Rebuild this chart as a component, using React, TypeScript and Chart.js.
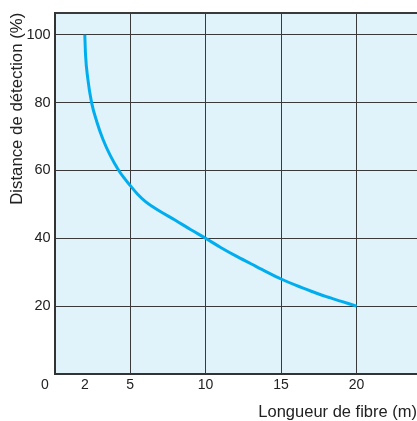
import React, { useEffect, useRef } from "react";
import { Chart, registerables } from "chart.js";

Chart.register(...registerables);

// Data
const fibreLength = [2, 2.05, 2.2, 2.45, 2.8, 3.2, 3.7, 4.25, 4.6, 5, 5.5, 6, 6.5, 7, 8, 9, 10, 11, 12, 13, 14, 15, 16, 17, 18, 19, 20];
const detectionDistance = [100, 94, 87, 80, 74.3, 69.2, 64.3, 60, 57.8, 55.6, 53, 50.9, 49.3, 47.9, 45.3, 42.6, 40, 37.3, 34.8, 32.5, 30.2, 28, 26.1, 24.4, 22.8, 21.4, 20];
const xTickValues = [0, 2, 5, 10, 15, 20, 24];
const yTickValues = [0, 20, 40, 60, 80, 100, 106.5];
const xGridValues = [5, 10, 15, 20];
const xTitle = "Longueur de fibre (m)";
const yTitle = "Distance de détection (%)";

const GRID = "#3a3a3a";
const FONT = "'Liberation Sans', Arial, Helvetica, sans-serif";

const bgPlugin = {
  id: "plotBg",
  beforeDraw(chart: any) {
    const { ctx, chartArea } = chart;
    ctx.save();
    ctx.fillStyle = "#e0f2fa";
    ctx.fillRect(chartArea.left, chartArea.top, chartArea.right - chartArea.left, chartArea.bottom - chartArea.top);
    ctx.restore();
  },
};

export default function App() {
  const ref = useRef<HTMLCanvasElement | null>(null);
  useEffect(() => {
    if (!ref.current) return;
    const chart = new Chart(ref.current, {
      type: "line",
      data: {
        datasets: [
          {
            data: fibreLength.map((x, i) => ({ x, y: detectionDistance[i] })),
            borderColor: "#00aeef",
            borderWidth: 3,
            pointRadius: 0,
            cubicInterpolationMode: "monotone",
            fill: false,
          },
        ],
      },
      options: {
        animation: false,
        responsive: false,
        devicePixelRatio: 1,
        layout: { padding: { top: 11.7, left: 0, right: 0, bottom: 0 } },
        plugins: { legend: { display: false }, tooltip: { enabled: false } },
        scales: {
          x: {
            type: "linear",
            min: 0,
            max: 24,
            afterBuildTicks: (s: any) => {
              s.ticks = xTickValues.map((v) => ({ value: v }));
            },
            afterFit: (s: any) => {
              s.height = 47;
              s.paddingRight = 0;
            },
            ticks: {
              padding: 3,
              color: "#222",
              font: { family: FONT, size: 14 },
              maxRotation: 0,
              autoSkip: false,
              callback: (v: any) => (v === 0 ? "0     " : v === 24 ? "" : String(v)),
            },
            grid: {
              drawTicks: false,
              color: (c: any) => (xGridValues.includes(c.tick?.value) ? GRID : "rgba(0,0,0,0)"),
              lineWidth: 1,
            },
            border: { display: true, color: "#333", width: 2 },
            title: {
              display: true,
              text: xTitle,
              align: "end",
              color: "#222",
              font: { family: FONT, size: 16.5 },
              padding: { top: 4, bottom: -1 },
            },
          },
          y: {
            type: "linear",
            min: 0,
            max: 106.5,
            afterBuildTicks: (s: any) => {
              s.ticks = yTickValues.map((v) => ({ value: v }));
            },
            afterFit: (s: any) => {
              s.width = 54.6;
            },
            ticks: {
              padding: 4,
              color: "#222",
              font: { family: FONT, size: 14.5 },
              autoSkip: false,
              callback: (v: any) => (v === 0 || v === 106.5 ? "" : String(v)),
            },
            grid: {
              drawTicks: false,
              color: (c: any) => (c.tick && c.tick.value > 0 ? GRID : "rgba(0,0,0,0)"),
              lineWidth: (c: any) => (c.tick && c.tick.value === 106.5 ? 2 : 1),
            },
            border: { display: true, color: "#333", width: 2 },
            title: {
              display: true,
              text: yTitle,
              align: "end",
              color: "#222",
              font: { family: FONT, size: 16.8 },
              padding: { top: 7.4, bottom: 0 },
            },
          },
        },
      } as any,
      plugins: [bgPlugin],
    });
    return () => chart.destroy();
  }, []);
  return (
    <div style={{ position: "absolute", left: 0, top: 0, width: 417, height: 421, background: "#fff" }}>
      <canvas ref={ref} width={417} height={421} style={{ width: 417, height: 421, display: "block" }} />
    </div>
  );
}
